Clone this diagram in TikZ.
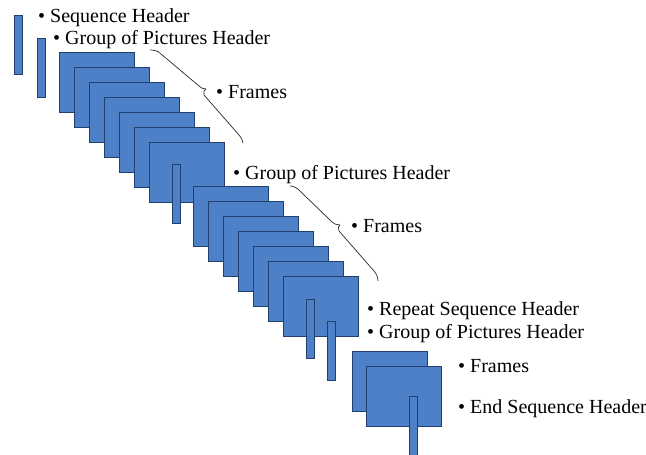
\documentclass[tikz,border=0pt]{standalone}
\usepackage{fontspec}
\setmainfont{Liberation Serif}
\definecolor{framefill}{HTML}{4D80C6}
\definecolor{frameedge}{HTML}{22406E}
\definecolor{bracecol}{HTML}{2A2A2A}
\begin{document}
\begin{tikzpicture}[x=1pt,y=-1pt,
  pic/.style={draw=frameedge,fill=framefill,line width=0.8pt,inner sep=0pt,
    minimum width=75pt,minimum height=60pt,anchor=north west},
  hdr/.style={draw=frameedge,fill=framefill,line width=0.8pt,inner sep=0pt,
    minimum width=8pt,minimum height=59pt,anchor=north west},
  lbl/.style={anchor=base west,inner sep=0pt,font=\fontsize{20}{24}\selectfont},
  curly/.style={draw=bracecol,line width=0.7pt,line join=round}]
\useasboundingbox (0,0) rectangle (646,455);

% sequence header and first GOP header
\node[hdr] (sh) at (14,15) {};
\node[hdr] (gh1) at (37,38) {};

% first group of pictures
\foreach \i in {0,...,6}
  \node[pic] (ga\i) at ({59+15*\i},{52+15*\i}) {};
\node[hdr] (gh2) at (172,164) {};

% second group of pictures
\foreach \i in {0,...,6}
  \node[pic] (gb\i) at ({193+15*\i},{186+15*\i}) {};
\node[hdr] (rsh) at (306,299) {};
\node[hdr] (gh3) at (327,321) {};

% closing pictures and end header
\node[pic] (gc0) at (352,351) {};
\node[pic] (gc1) at (366,366) {};
\node[hdr,minimum height=62pt] (esh) at (409,396) {};

% labels
\node[lbl] (t1) at (38,23) {• Sequence Header};
\node[lbl] (t2) at (53,45) {• Group of Pictures Header};
\node[lbl] (t3) at (216,98) {• Frames};
\node[lbl] (t4) at (233,179) {• Group of Pictures Header};
\node[lbl] (t5) at (351,232) {• Frames};
\node[lbl] (t6) at (367,315) {• Repeat Sequence Header};
\node[lbl] (t7) at (367,338) {• Group of Pictures Header};
\node[lbl] (t8) at (458,372) {• Frames};
\node[lbl] (t9) at (458,413) {• End Sequence Header};

% braces spanning the frames of each group
\coordinate (ba) at (150,50);
\coordinate (bb) at (243,143);
\draw[curly] (ba) .. controls (155,50) and (158,51) .. (161,54)
  -- (199,86) .. controls (201,88) and (203,89) .. (206,89)
  .. controls (204,90) and (203,92) .. (204,95)
  -- (239,135) .. controls (241,137) and (243,140) .. (bb);
\coordinate (bc) at (290,186);
\coordinate (bd) at (378,281);
\draw[curly] (bc) .. controls (294,186) and (297,188) .. (300,191)
  -- (332,222) .. controls (334,224) and (337,225) .. (340,225)
  .. controls (338,226) and (338,228) .. (339,231)
  -- (374,271) .. controls (376,273) and (378,277) .. (bd);
\end{tikzpicture}
\end{document}
